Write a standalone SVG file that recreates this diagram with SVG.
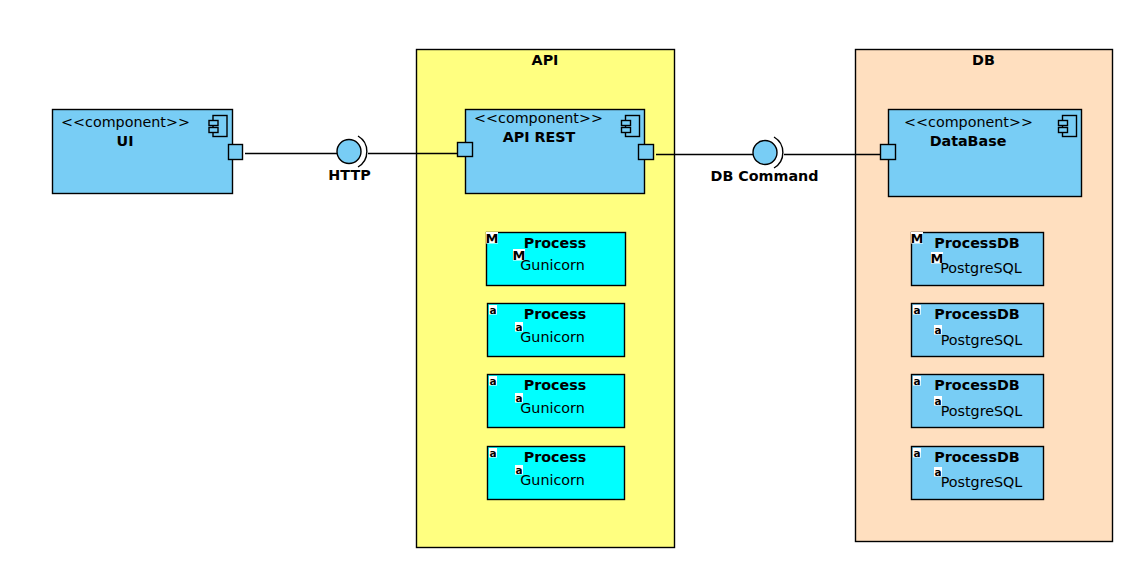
<svg xmlns="http://www.w3.org/2000/svg" width="1147" height="571" viewBox="0 0 1147 571">
<style>
text{font-family:"DejaVu Sans",sans-serif;font-size:14.3px;fill:#000;text-anchor:middle}
.b{font-weight:bold}
.s{fill:#78cdf5;stroke:#000;stroke-width:1.4}
.c{fill:#00ffff;stroke:#000;stroke-width:1.4}
.l{fill:none;stroke:#000;stroke-width:1.4}
.i{fill:#fff}
.m{font-size:13px;font-weight:bold}
.a{font-size:10.500px;font-weight:bold}
</style>
<defs>
<g id="icon"><rect class="s" x="4" y="0" width="14" height="21"/><rect class="s" x="0" y="5" width="9" height="5"/><rect class="s" x="0" y="12" width="9" height="5"/></g>
<g id="mm"><rect class="i" width="12" height="11.500"/><text class="m" x="6" y="11">M</text></g>
<g id="aa"><rect class="i" width="8" height="9.500"/><text class="a" x="4" y="8.500">a</text></g>
</defs>
<g id="api"><rect x="416.500" y="49.500" width="258" height="498" fill="#ffff80" stroke="#000" stroke-width="1.4"/><text class="b" x="545" y="65">API</text></g>
<g id="db"><rect x="855.500" y="49.500" width="257" height="492" fill="#ffdfbf" stroke="#000" stroke-width="1.4"/><text class="b" x="983.500" y="65">DB</text></g>
<g id="connectors">
<path class="l" d="M245 153.500H337M368 153.500H458M656 154.500H753M784 154.500H881"/>
<path class="l" d="M358 136A18 18 0 0 1 358 167M774 137A18 18 0 0 1 774 168"/>
</g>
<g id="ui"><rect class="s" x="52.500" y="109.500" width="180" height="84"/><text x="125.500" y="127">&lt;&lt;component&gt;&gt;</text><text class="b" x="125" y="146">UI</text><use href="#icon" x="209" y="115.500"/><rect class="s" x="228.500" y="144.500" width="14" height="15"/></g>
<g id="http"><circle class="s" cx="349" cy="151.500" r="12"/><text class="b" x="349.500" y="180">HTTP</text></g>
<g id="apirest"><rect class="s" x="465.500" y="109.500" width="179" height="84"/><text x="538.500" y="123">&lt;&lt;component&gt;&gt;</text><text class="b" x="539" y="142">API REST</text><use href="#icon" x="621.500" y="115.500"/><rect class="s" x="457.500" y="142.500" width="15" height="14"/><rect class="s" x="638.500" y="144.500" width="15" height="15"/></g>
<g id="dbcommand"><circle class="s" cx="765" cy="152.500" r="12"/><text class="b" x="764.500" y="181">DB Command</text></g>
<g id="database"><rect class="s" x="888.500" y="109.500" width="193" height="87"/><text x="968.500" y="127">&lt;&lt;component&gt;&gt;</text><text class="b" x="968" y="146">DataBase</text><use href="#icon" x="1058.500" y="115.500"/><rect class="s" x="880.500" y="144.500" width="15" height="15"/></g>
<g id="p1"><rect class="c" x="486.500" y="232.500" width="139" height="53"/><use href="#mm" x="486" y="232"/><text class="b" x="555" y="248">Process</text><use href="#mm" x="513" y="249"/><text x="552.500" y="270">Gunicorn</text></g>
<g id="p2"><rect class="c" x="487.500" y="303.500" width="137" height="53"/><use href="#aa" x="489" y="305"/><text class="b" x="555" y="319">Process</text><use href="#aa" x="515" y="322"/><text x="552.500" y="342">Gunicorn</text></g>
<g id="p3"><rect class="c" x="487.500" y="374.500" width="137" height="53"/><use href="#aa" x="489" y="376"/><text class="b" x="555" y="390">Process</text><use href="#aa" x="515" y="393"/><text x="552.500" y="413">Gunicorn</text></g>
<g id="p4"><rect class="c" x="487.500" y="446.500" width="137" height="53"/><use href="#aa" x="489" y="448"/><text class="b" x="555" y="462">Process</text><use href="#aa" x="515" y="465"/><text x="552.500" y="485">Gunicorn</text></g>
<g id="d1"><rect class="s" x="911.500" y="232.500" width="132" height="53"/><use href="#mm" x="911" y="232"/><text class="b" x="977" y="248">ProcessDB</text><use href="#mm" x="931" y="252"/><text x="981" y="273">PostgreSQL</text></g>
<g id="d2"><rect class="s" x="911.500" y="303.500" width="132" height="53"/><use href="#aa" x="913" y="305"/><text class="b" x="977" y="319">ProcessDB</text><use href="#aa" x="934" y="325"/><text x="981.500" y="345">PostgreSQL</text></g>
<g id="d3"><rect class="s" x="911.500" y="374.500" width="132" height="53"/><use href="#aa" x="913" y="376"/><text class="b" x="977" y="390">ProcessDB</text><use href="#aa" x="934" y="396"/><text x="981.500" y="416">PostgreSQL</text></g>
<g id="d4"><rect class="s" x="911.500" y="446.500" width="132" height="53"/><use href="#aa" x="913" y="448"/><text class="b" x="977" y="462">ProcessDB</text><use href="#aa" x="934" y="467"/><text x="981.500" y="487">PostgreSQL</text></g>
</svg>
